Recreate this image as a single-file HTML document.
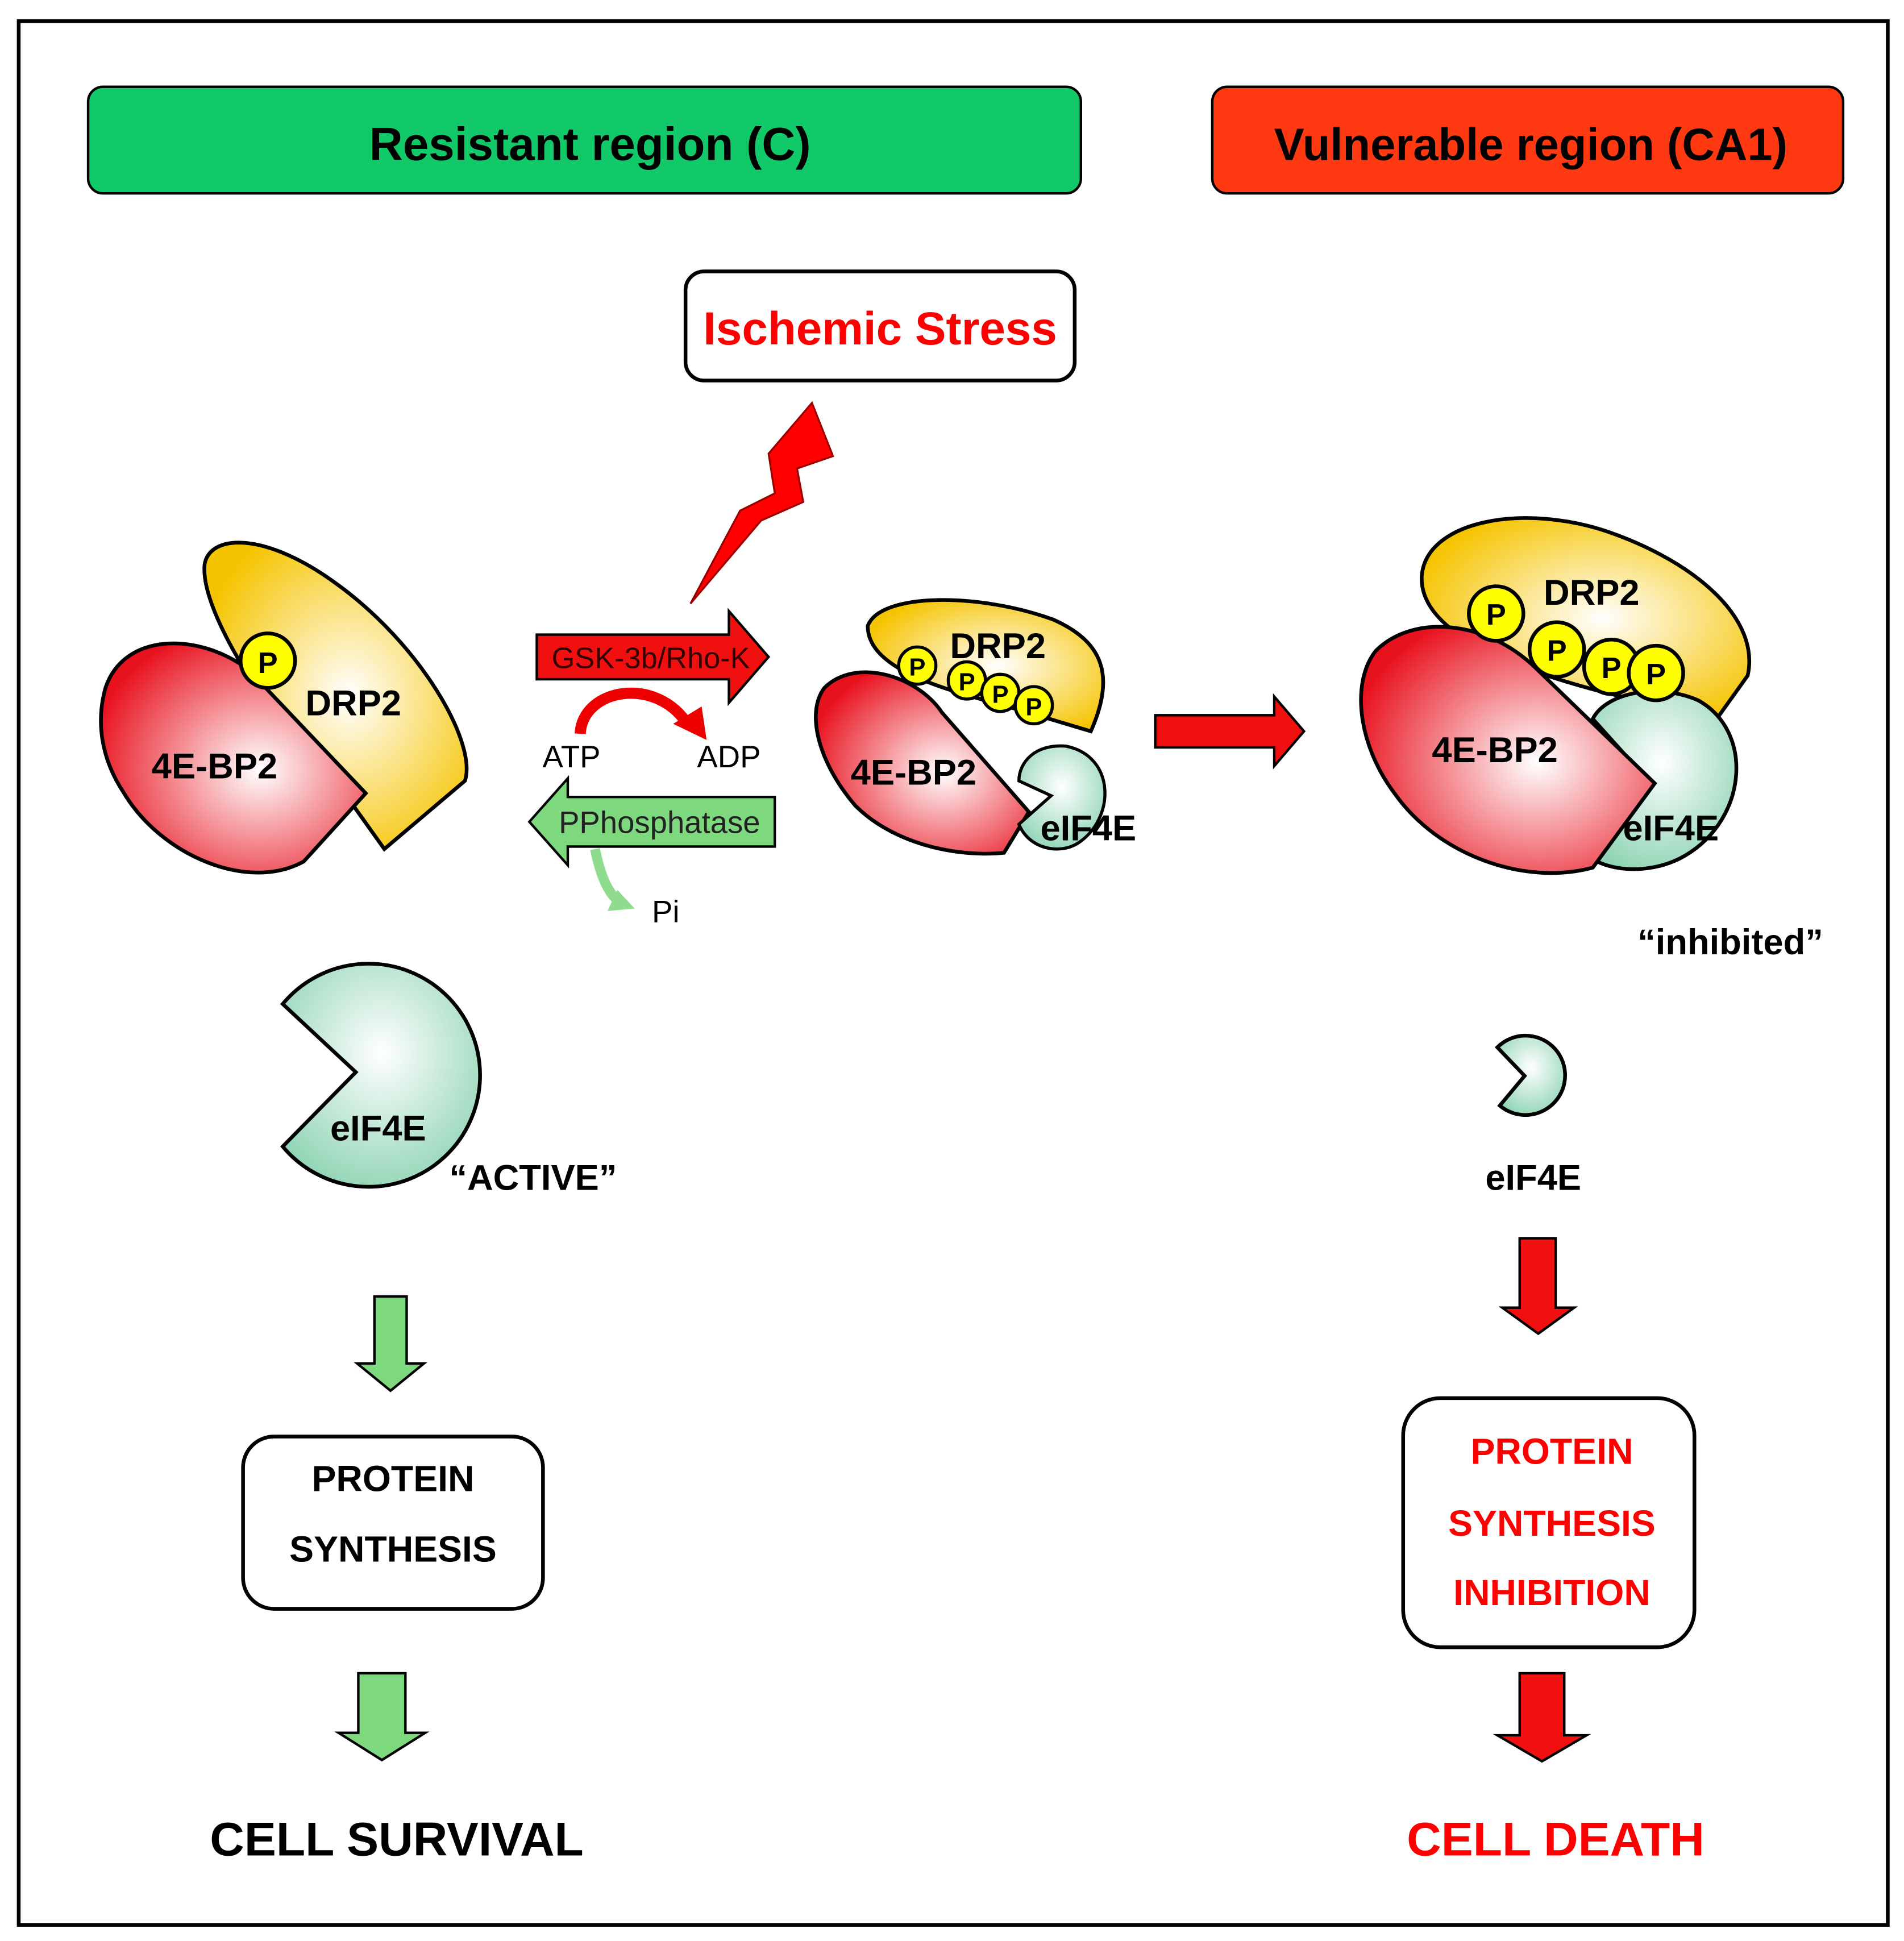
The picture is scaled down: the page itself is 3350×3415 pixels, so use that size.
<!DOCTYPE html>
<html><head><meta charset="utf-8"><style>
html,body{margin:0;padding:0;background:#fff;}
svg{display:block;}
text{font-family:"Liberation Sans",Arial,sans-serif;}
</style></head><body>
<svg width="3350" height="3415" viewBox="0 0 1536 1566" xmlns="http://www.w3.org/2000/svg">
<defs>
<radialGradient id="yg" cx="0.55" cy="0.5" r="0.6"><stop offset="0" stop-color="#fff"/><stop offset="1" stop-color="#f5c400"/></radialGradient>
<radialGradient id="rg" cx="0.6" cy="0.55" r="0.65"><stop offset="0" stop-color="#fff"/><stop offset="1" stop-color="#e8121e"/></radialGradient>
<radialGradient id="tg" cx="0.5" cy="0.4" r="0.65"><stop offset="0" stop-color="#fff"/><stop offset="1" stop-color="#8fd4b4"/></radialGradient>
</defs>
<rect x="0" y="0" width="1536" height="1566" fill="#fff"/>
<rect x="15" y="17" width="1508" height="1536" fill="none" stroke="#000" stroke-width="3"/>

<rect x="71" y="70" width="801" height="86" rx="12" fill="#12c96a" stroke="#000" stroke-width="2"/>
<text x="476" y="129" font-size="37.5" font-weight="bold" text-anchor="middle">Resistant region (C)</text>
<rect x="978" y="70" width="509" height="86" rx="12" fill="#ff3a12" stroke="#000" stroke-width="2"/>
<text x="1235" y="129" font-size="36.5" font-weight="bold" text-anchor="middle">Vulnerable region (CA1)</text>

<rect x="553" y="219" width="314" height="88" rx="15" fill="#fff" stroke="#000" stroke-width="3"/>
<text x="710" y="278" font-size="37.5" font-weight="bold" fill="#f00" text-anchor="middle">Ischemic Stress</text>

<polygon points="655,325 672,368 643,378 648,405 614,420 557,487 597,412 625,398 620,366" fill="#f00" stroke="#900" stroke-width="1.5"/>

<path d="M165,455 C170,430 215,430 270,470 C340,520 385,600 375,630 L310,685 L285,650 C240,610 160,500 165,455 Z" fill="url(#yg)" stroke="#000" stroke-width="3"/>
<path d="M85,555 C100,510 160,510 200,540 L295,640 L245,695 C200,720 130,690 100,640 C80,610 78,580 85,555 Z" fill="url(#rg)" stroke="#000" stroke-width="3"/>
<circle cx="216" cy="533" r="22" fill="#ff0" stroke="#000" stroke-width="3"/>
<text x="216" y="543" font-size="24" font-weight="bold" text-anchor="middle">P</text>
<text x="285" y="577" font-size="29" font-weight="bold" text-anchor="middle">DRP2</text>
<text x="173" y="628" font-size="29" font-weight="bold" text-anchor="middle">4E-BP2</text>

<polygon points="433,512 588,512 588,493 620,530 588,567 588,548 433,548" fill="#f01010" stroke="#000" stroke-width="2"/>
<text x="525" y="539" font-size="24" text-anchor="middle" fill="#300">GSK-3b/Rho-K</text>
<path d="M468,592 C470,555 530,545 555,585" fill="none" stroke="#e00" stroke-width="9"/>
<polygon points="543,584 570,597 566,570" fill="#e00"/>
<text x="461" y="619" font-size="25" text-anchor="middle">ATP</text>
<text x="588" y="619" font-size="25" text-anchor="middle">ADP</text>

<polygon points="625,643 458,643 458,628 427,663 458,698 458,683 625,683" fill="#7ed87e" stroke="#000" stroke-width="2"/>
<text x="532" y="672" font-size="25" text-anchor="middle" fill="#222">PPhosphatase</text>
<path d="M480,685 C485,710 492,722 500,728" fill="none" stroke="#8fdc8f" stroke-width="8"/>
<polygon points="490,735 512,733 498,718" fill="#8fdc8f"/>
<text x="537" y="744" font-size="25" text-anchor="middle">Pi</text>

<path d="M700,505 C710,478 790,478 850,500 C890,518 900,545 880,590 L830,575 C780,560 700,545 700,505 Z" fill="url(#yg)" stroke="#000" stroke-width="3"/>
<path d="M665,555 C690,530 740,545 760,575 L830,655 L810,688 C770,692 720,680 690,650 C660,615 650,575 665,555 Z" fill="url(#rg)" stroke="#000" stroke-width="3"/>
<path d="M870,680 C900,660 900,610 860,602 C835,600 822,615 822,630 L848,642 L822,665 C830,685 855,690 870,680 Z" fill="url(#tg)" stroke="#000" stroke-width="2.5"/>
<g font-size="20" font-weight="bold" text-anchor="middle">
<circle cx="740" cy="537" r="15" fill="#ff0" stroke="#000" stroke-width="2.5"/><text x="740" y="545">P</text>
<circle cx="780" cy="549" r="15" fill="#ff0" stroke="#000" stroke-width="2.5"/><text x="780" y="557">P</text>
<circle cx="807" cy="559" r="15" fill="#ff0" stroke="#000" stroke-width="2.5"/><text x="807" y="567">P</text>
<circle cx="834" cy="569" r="15" fill="#ff0" stroke="#000" stroke-width="2.5"/><text x="834" y="577">P</text>
</g>
<text x="805" y="531" font-size="29" font-weight="bold" text-anchor="middle">DRP2</text>
<text x="737" y="633" font-size="29" font-weight="bold" text-anchor="middle">4E-BP2</text>
<text x="878" y="678" font-size="29" font-weight="bold" text-anchor="middle">eIF4E</text>

<polygon points="932,577 1028,577 1028,562 1052,590 1028,618 1028,603 932,603" fill="#f01010" stroke="#000" stroke-width="2"/>

<path d="M1147,465 C1150,420 1230,405 1300,430 C1370,455 1420,500 1410,545 L1385,580 L1300,560 C1220,540 1145,510 1147,465 Z" fill="url(#yg)" stroke="#000" stroke-width="3"/>
<path d="M1360,690 C1410,660 1415,590 1370,565 C1335,550 1295,560 1285,580 L1330,630 L1280,690 C1300,705 1335,705 1360,690 Z" fill="url(#tg)" stroke="#000" stroke-width="3"/>
<path d="M1110,525 C1140,495 1200,500 1240,540 L1335,632 L1285,700 C1230,715 1160,690 1125,640 C1095,600 1090,550 1110,525 Z" fill="url(#rg)" stroke="#000" stroke-width="3"/>
<g font-size="24" font-weight="bold" text-anchor="middle">
<circle cx="1207" cy="495" r="22" fill="#ff0" stroke="#000" stroke-width="3"/><text x="1207" y="504">P</text>
<circle cx="1256" cy="524" r="22" fill="#ff0" stroke="#000" stroke-width="3"/><text x="1256" y="533">P</text>
<circle cx="1300" cy="538" r="22" fill="#ff0" stroke="#000" stroke-width="3"/><text x="1300" y="547">P</text>
<circle cx="1336" cy="543" r="22" fill="#ff0" stroke="#000" stroke-width="3"/><text x="1336" y="552">P</text>
</g>
<text x="1284" y="488" font-size="29" font-weight="bold" text-anchor="middle">DRP2</text>
<text x="1206" y="615" font-size="29" font-weight="bold" text-anchor="middle">4E-BP2</text>
<text x="1348" y="678" font-size="29" font-weight="bold" text-anchor="middle">eIF4E</text>
<text x="1396" y="770" font-size="29" font-weight="bold" text-anchor="middle">“inhibited”</text>

<path d="M228,810 A90,90 0 1 1 228,925 L287,865 Z" fill="url(#tg)" stroke="#000" stroke-width="3"/>
<text x="305" y="920" font-size="29" font-weight="bold" text-anchor="middle">eIF4E</text>
<text x="430" y="960" font-size="29" font-weight="bold" text-anchor="middle">“ACTIVE”</text>

<path d="M1208,845 A32,32 0 1 1 1210,892 L1230,868 Z" fill="url(#tg)" stroke="#000" stroke-width="3"/>
<text x="1237" y="960" font-size="29" font-weight="bold" text-anchor="middle">eIF4E</text>

<polygon points="302,1046 328,1046 328,1100 342,1100 315,1122 288,1100 302,1100" fill="#7ed87e" stroke="#000" stroke-width="2"/>
<polygon points="289,1350 327,1350 327,1398 343,1398 308,1420 273,1398 289,1398" fill="#7ed87e" stroke="#000" stroke-width="2"/>

<rect x="196" y="1159" width="242" height="139" rx="25" fill="#fff" stroke="#000" stroke-width="3"/>
<text x="317" y="1203" font-size="29.5" font-weight="bold" text-anchor="middle">PROTEIN</text>
<text x="317" y="1260" font-size="29.5" font-weight="bold" text-anchor="middle">SYNTHESIS</text>
<text x="320" y="1497" font-size="38.5" font-weight="bold" text-anchor="middle">CELL SURVIVAL</text>

<polygon points="1226,999 1255,999 1255,1055 1270,1055 1241,1076 1212,1055 1226,1055" fill="#f01010" stroke="#000" stroke-width="2"/>
<polygon points="1226,1350 1262,1350 1262,1400 1280,1400 1244,1421 1208,1400 1226,1400" fill="#f01010" stroke="#000" stroke-width="2"/>

<rect x="1132" y="1128" width="235" height="201" rx="30" fill="#fff" stroke="#000" stroke-width="3"/>
<text x="1252" y="1181" font-size="29.5" font-weight="bold" fill="#f00" text-anchor="middle">PROTEIN</text>
<text x="1252" y="1239" font-size="29.5" font-weight="bold" fill="#f00" text-anchor="middle">SYNTHESIS</text>
<text x="1252" y="1295" font-size="29.5" font-weight="bold" fill="#f00" text-anchor="middle">INHIBITION</text>
<text x="1255" y="1497" font-size="38.5" font-weight="bold" fill="#f00" text-anchor="middle">CELL DEATH</text>
</svg>
</body></html>
